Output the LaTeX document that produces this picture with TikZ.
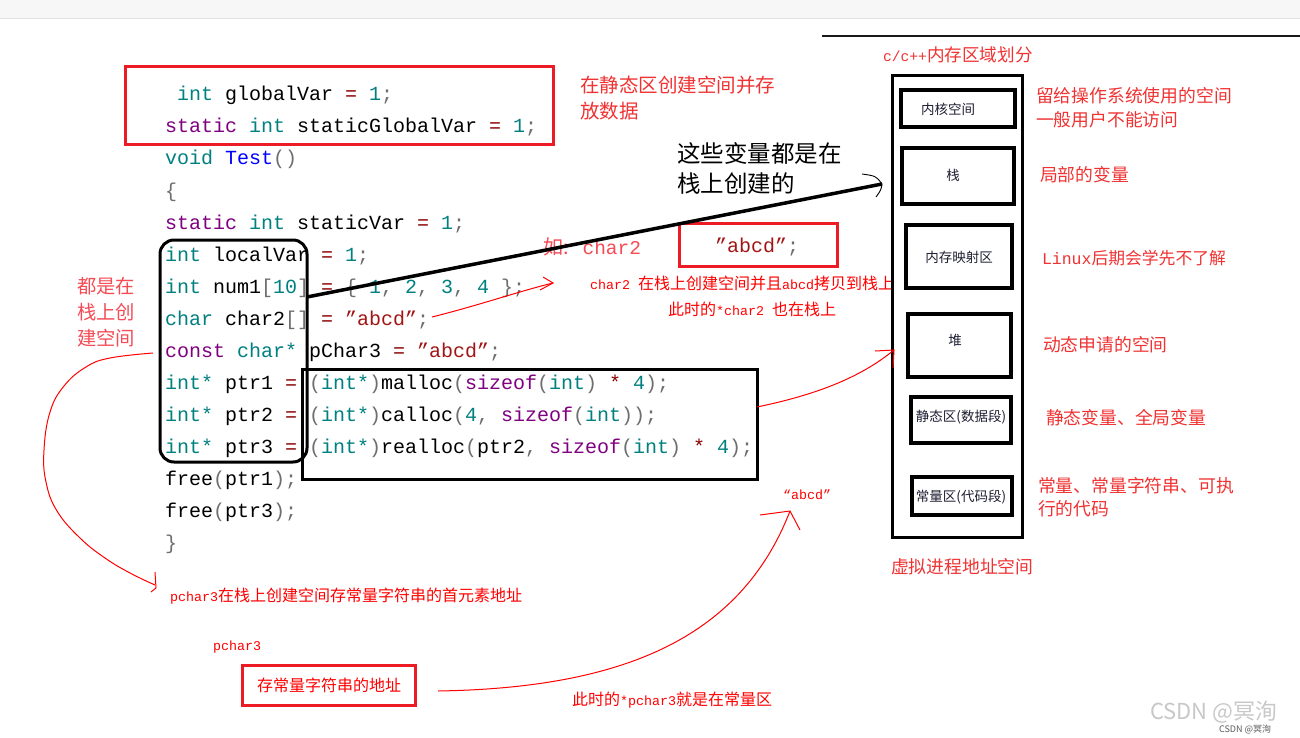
\documentclass[tikz,border=0pt]{standalone}
\usepackage{fontspec}
\setmainfont{Noto Sans CJK SC}
\setmonofont{Liberation Mono}
\newfontfamily\hwfont[Scale=0.8333]{Liberation Mono}
\newcommand\hw[1]{{\hwfont #1}}
\definecolor{ckwc}{RGB}{0,128,128}
\definecolor{cpuc}{RGB}{128,0,128}
\definecolor{copc}{RGB}{139,0,0}
\definecolor{cgrc}{RGB}{110,110,110}
\definecolor{cstc}{RGB}{163,21,21}
\definecolor{cblc}{RGB}{0,0,255}
\definecolor{rboxc}{RGB}{237,28,36}
\definecolor{rlblc}{RGB}{240,50,50}
\definecolor{rpinkc}{RGB}{245,75,85}
\definecolor{rsmc}{RGB}{255,0,0}
\definecolor{memtxt}{RGB}{30,30,50}
\definecolor{bandc}{RGB}{247,247,247}
\definecolor{bandl}{RGB}{225,225,225}
\definecolor{wmlight}{RGB}{200,200,200}
\definecolor{wmdark}{RGB}{90,90,90}
\newcommand\ckw[1]{\textcolor{ckwc}{#1}}
\newcommand\cpu[1]{\textcolor{cpuc}{#1}}
\newcommand\cop[1]{\textcolor{copc}{#1}}
\newcommand\cgr[1]{\textcolor{cgrc}{#1}}
\newcommand\cst[1]{\textcolor{cstc}{#1}}
\newcommand\cbl[1]{\textcolor{cblc}{#1}}
\newcommand\codefont{\fontsize{20}{24}\selectfont\ttfamily}
\tikzset{
  every node/.style={inner sep=0pt, outer sep=0pt},
  redbox/.style={draw=rboxc, line width=3pt},
  blkbox/.style={draw=black, line width=3pt},
  membox/.style={draw=black, line width=3.5pt},
  codeline/.style={anchor=base west, font=\codefont, text=black},
  redline/.style={draw=rsmc, line width=1pt},
  rlbl/.style={anchor=west, text=rlblc, font=\fontsize{17.8}{20}\selectfont},
  rsmall/.style={anchor=west, text=rsmc, font=\fontsize{16}{18}\selectfont},
  memlbl/.style={text=memtxt, font=\fontsize{13.5}{15}\selectfont},
}
\begin{document}
\begin{tikzpicture}[x=1pt,y=-1pt]
\useasboundingbox (0,0) rectangle (1300,738);
\fill[white] (0,0) rectangle (1300,738);
% top band
\fill[bandc] (0,0) rectangle (1300,18);
\draw[bandl, line width=1pt] (0,18.5) -- (1300,18.5);
\coordinate (hlA) at (822,36);
\coordinate (hlB) at (1300,36);
\draw[line width=1.5pt, black!90] (hlA) -- (hlB);

% code
\node[codeline] (c1) at (177,101) {\ckw{int} globalVar \cop{=} \ckw{1}\cgr{;}};
\node[codeline] (c2) at (165,133) {\cpu{static} \ckw{int} staticGlobalVar \cop{=} \ckw{1}\cgr{;}};
\node[codeline] (c3) at (165,165) {\ckw{void} \cbl{Test}\cgr{()}};
\node[codeline] (c4) at (165,197) {\cgr{\{}};
\node[codeline] (c5) at (165,229) {\cpu{static} \ckw{int} staticVar \cop{=} \ckw{1}\cgr{;}};
\node[codeline] (c6) at (165,261) {\ckw{int} localVar \cop{=} \ckw{1}\cgr{;}};
\node[codeline] (c7) at (165,293) {\ckw{int} num1\cgr{[}\ckw{10}\cgr{]} \cop{=} \cgr{\{} \ckw{1}\cgr{,} \ckw{2}\cgr{,} \ckw{3}\cgr{,} \ckw{4} \cgr{\};}};
\node[codeline] (c8) at (165,325) {\ckw{char} char2\cgr{[]} \cop{=} \cst{”abcd”}\cgr{;}};
\node[codeline] (c9) at (165,357) {\cpu{const} \ckw{char*} pChar3 \cop{=} \cst{”abcd”}\cgr{;}};
\node[codeline] (c10) at (165,389) {\ckw{int*} ptr1 \cop{=} \cgr{(}\ckw{int*}\cgr{)}malloc\cgr{(}\cpu{sizeof}\cgr{(}\ckw{int}\cgr{)} \cop{*} \ckw{4}\cgr{);}};
\node[codeline] (c11) at (165,421) {\ckw{int*} ptr2 \cop{=} \cgr{(}\ckw{int*}\cgr{)}calloc\cgr{(}\ckw{4}\cgr{,} \cpu{sizeof}\cgr{(}\ckw{int}\cgr{));}};
\node[codeline] (c12) at (165,453) {\ckw{int*} ptr3 \cop{=} \cgr{(}\ckw{int*}\cgr{)}realloc\cgr{(}ptr2\cgr{,} \cpu{sizeof}\cgr{(}\ckw{int}\cgr{)} \cop{*} \ckw{4}\cgr{);}};
\node[codeline] (c13) at (165,485) {free\cgr{(}ptr1\cgr{);}};
\node[codeline] (c14) at (165,517) {free\cgr{(}ptr3\cgr{);}};
\node[codeline] (c15) at (165,549) {\cgr{\}}};

% boxes around code
\node[redbox, minimum width=428, minimum height=78] (globbox) at (339,106) {};
\node[blkbox, rounded corners=14pt, minimum width=147, minimum height=222] (stackgrp) at (233.5,351) {};
\node[blkbox, minimum width=455, minimum height=110] (heapcode) at (529.5,424) {};

% top-right label of red box
\node[anchor=west, text=rlblc, font=\fontsize{19.5}{22}\selectfont] (gl1) at (580,85) {在静态区创建空间并存};
\node[anchor=west, text=rlblc, font=\fontsize{19.5}{22}\selectfont] (gl2) at (580,111) {放数据};

% left label
\node[anchor=west, text=rpinkc, font=\fontsize{19.3}{22}\selectfont] (ll1) at (77,286) {都是在};
\node[anchor=west, text=rpinkc, font=\fontsize{19.3}{22}\selectfont] (ll2) at (77,312) {栈上创};
\node[anchor=west, text=rpinkc, font=\fontsize{19.3}{22}\selectfont] (ll3) at (77,338) {建空间};

% black note
\node[anchor=west, text=black, font=\fontsize{23.5}{26}\selectfont] (bn1) at (677,153) {这些变量都是在};
\node[anchor=west, text=black, font=\fontsize{23.5}{26}\selectfont] (bn2) at (677,184) {栈上创建的};

% char2 example
\node[anchor=west, text=rpinkc, font=\fontsize{20}{22}\selectfont] (ex1) at (543,247) {如:\hspace{14pt}{\ttfamily\fontsize{19.5}{22}\selectfont char2}};
\node[redbox, minimum width=158, minimum height=43] (abox) at (758,244.5) {};
\node[font=\codefont] (abtxt) at (757,247) {\cst{”abcd”}\cgr{;}};
\node[rsmall] (ex2) at (590,283) {\hw{char2 }在栈上创建空间并且\hw{abcd}拷贝到栈上};
\node[rsmall] (ex3) at (668,309) {此时的\hw{*char2 }也在栈上};

% memory layout
\node[anchor=west, text=rlblc, font=\fontsize{17.6}{20}\selectfont] (title) at (883,55) {\hw{c/c++}内存区域划分};
\node[membox, line width=3pt, minimum width=130, minimum height=461] (mem) at (957,306.5) {};
\node[membox, minimum width=114, minimum height=37] (kern) at (958,108.5) {};
\node[membox, minimum width=112, minimum height=56] (stk) at (958,176) {};
\node[membox, minimum width=106, minimum height=63] (mmap) at (959,256.5) {};
\node[membox, minimum width=103, minimum height=63] (heap) at (959.5,345.5) {};
\node[membox, minimum width=100, minimum height=46] (data) at (961,420) {};
\node[membox, minimum width=100, minimum height=38] (cnst) at (962,496) {};
\node[memlbl] (kernT) at (948,109) {内核空间};
\node[memlbl] (stkT) at (953,175) {栈};
\node[memlbl] (mmapT) at (959,257) {内存映射区};
\node[memlbl] (heapT) at (955,340) {堆};
\node[memlbl] (dataT) at (961,417) {静态区(数据段)};
\node[memlbl] (cnstT) at (961,497) {常量区(代码段)};

\node[rlbl] (d1a) at (1036,96) {留给操作系统使用的空间};
\node[rlbl] (d1b) at (1036,120) {一般用户不能访问};
\node[rlbl] (d2) at (1040,175) {局部的变量};
\node[rlbl, font=\fontsize{16.8}{19}\selectfont] (d3) at (1042,258) {{\ttfamily\fontsize{16.5}{19}\selectfont Linux}后期会学先不了解};
\node[rlbl] (d4) at (1043,345) {动态申请的空间};
\node[rlbl] (d5) at (1046,418) {静态变量、全局变量};
\node[rlbl] (d6a) at (1038,486) {常量、常量字符串、可执};
\node[rlbl] (d6b) at (1038,509) {行的代码};
\node[rlbl] (vas) at (891,567) {虚拟进程地址空间};

% bottom notes
\node[rsmall] (pn1) at (170,596) {\hw{pchar3}在栈上创建空间存常量字符串的首元素地址};
\node[rsmall] (pn2) at (213,647) {\hw{pchar3}};
\node[redbox, minimum width=173, minimum height=40] (addrbox) at (328.5,685) {};
\node[text=rsmc, font=\fontsize{16}{18}\selectfont] (addrT) at (329,685) {存常量字符串的地址};
\node[rsmall] (pn3) at (572,700) {此时的\hw{*pchar3}就是在常量区};
\node[rsmall] (strlit) at (783,495) {\hw{“abcd”}};

% watermark
\node[anchor=west, text=wmlight, font=\fontsize{22}{24}\selectfont] (wm1) at (1150,712) {CSDN @冥洵};
\node[anchor=west, text=wmdark, font=\fontsize{9}{11}\selectfont] (wm2) at (1219,729) {CSDN @冥洵};

% thick black connector to stack
\coordinate (sA) at (307,297);
\coordinate (sB) at (882,184);
\draw[line width=3.5pt] (sA) -- (sB);
\coordinate (sH1) at (862,174);
\coordinate (sH2) at (876,197);
\draw[line width=0.9pt] (sH1) .. controls (876,176) .. (sB) .. controls (881,190) .. (sH2);

% red arrow from char2 line
\coordinate (rA) at (432,317);
\coordinate (rB) at (553,283);
\draw[redline] (rA) .. controls (480,305) and (520,291) .. (rB);
\draw[redline] (543,277) -- (rB) -- (540,290);

% red arrow from heap code to heap
\coordinate (hA) at (757,407);
\coordinate (hB) at (894,350);
\draw[redline] (hA) .. controls (815,395) and (860,378) .. (hB);
\draw[redline] (875,351) -- (hB) -- (893,368);

% left big red curve
\coordinate (lA) at (153,353);
\coordinate (lB) at (155,585);
\draw[redline] plot[smooth, tension=0.7] coordinates {(lA) (110,358) (86,367) (64,386) (50,412) (44,450) (46,482) (57,511) (80,538) (105,558) (130,573) (lB)};
\draw[redline] (155,572) -- (156,588) -- (151,592);

% bottom red curve to "abcd"
\coordinate (bA) at (438,691);
\coordinate (bB) at (790,511);
\draw[redline] (bA) .. controls (620,688) and (740,640) .. (bB);
\draw[redline] (760,515) -- (bB) -- (800,530);
\end{tikzpicture}
\end{document}
